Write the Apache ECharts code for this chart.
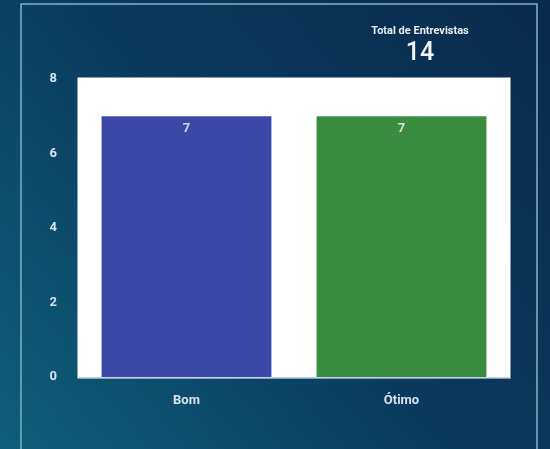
<!DOCTYPE html>
<html>
<head>
<meta charset="utf-8">
<script src="https://cdn.jsdelivr.net/npm/echarts@6/dist/echarts.min.js"></script>
<style>
  html, body { margin: 0; padding: 0; }
  #main { width: 550px; height: 449px; }
</style>
</head>
<body>
<div id="main"></div>
<script>
var categories = ['Bom', 'Ótimo'];
var values = [7, 7];
var barColors = ['#3c48a8', '#3a8c3e'];
var yTicks = [0, 2, 4, 6, 8];

var total = values.reduce(function (a, b) { return a + b; }, 0);

var chartDom = document.getElementById('main');
var myChart = echarts.init(chartDom);
var option;

option = {
  backgroundColor: new echarts.graphic.LinearGradient(1, 0, 0, 1, [
    { offset: 0, color: '#082a4c' },
    { offset: 0.5, color: '#0a3a5e' },
    { offset: 1, color: '#0f5e7a' }
  ]),
  textStyle: { fontFamily: 'Roboto' },
  graphic: [
    {
      // frame: left, top and right edges only (it runs off the bottom)
      type: 'polyline',
      shape: { points: [[21, 449], [21, 4], [537, 4], [537, 449]] },
      style: { fill: 'none', stroke: '#7fb3d0', lineWidth: 1.5 },
      silent: true
    }
  ],
  title: {
    text: 'Total de Entrevistas',
    subtext: String(total),
    left: 415,
    top: 21,
    textAlign: 'center',
    itemGap: 4,
    textStyle: { color: '#e8eef5', fontSize: 11, fontWeight: 'bold', fontFamily: 'Roboto' },
    subtextStyle: { color: '#f2f5f8', fontSize: 25, fontWeight: 500, fontFamily: 'Roboto' }
  },
  grid: {
    left: 79,
    right: 41,
    top: 79,
    bottom: 72,
    show: true,
    backgroundColor: '#ffffff',
    borderColor: '#ffffff',
    borderWidth: 3
  },
  xAxis: {
    type: 'category',
    data: categories,
    axisLine: { show: true, lineStyle: { color: '#c5d3ee', width: 1 } },
    axisTick: { show: false },
    axisLabel: { color: '#d6e2ec', fontSize: 13, fontWeight: 'bold', margin: 17 }
  },
  yAxis: {
    type: 'value',
    min: yTicks[0],
    max: yTicks[yTicks.length - 1],
    interval: 2,
    splitLine: { show: false },
    axisLine: { show: false },
    axisTick: { show: false },
    axisLabel: { color: '#d6e2ec', fontSize: 13, fontWeight: 'bold', margin: 22 }
  },
  series: [
    {
      type: 'bar',
      barCategoryGap: '21%',
      data: values.map(function (v, i) {
        return { value: v, itemStyle: { color: barColors[i] } };
      }),
      label: {
        show: true,
        position: 'insideTop',
        distance: 6,
        color: 'rgba(240,240,240,0.85)',
        fontSize: 13,
        fontWeight: 'bold'
      }
    }
  ]
};

option && myChart.setOption(option);
</script>
</body>
</html>
